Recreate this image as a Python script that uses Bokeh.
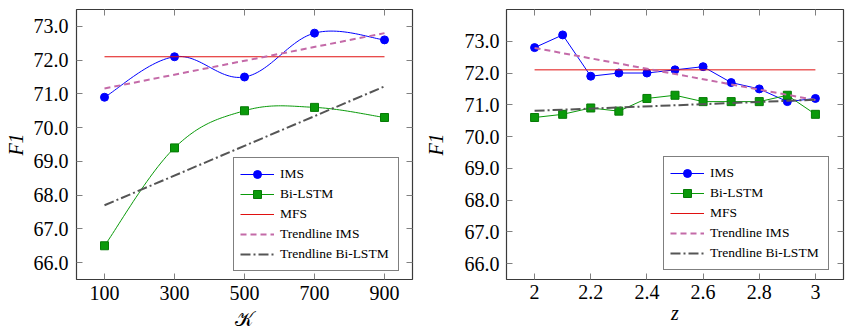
import numpy as np
from bokeh.plotting import figure
from bokeh.layouts import row
from bokeh.models import (Range1d, FixedTicker, PrintfTickFormatter, NumeralTickFormatter,
                          LinearAxis, Legend, LegendItem, CustomLabelingPolicy)
from bokeh.embed import file_html
from bokeh.resources import INLINE

# ---- F1 against cluster count K ----
k_values = [100, 300, 500, 700, 900]
ims_k = [70.9, 72.1, 71.5, 72.8, 72.6]
bilstm_k = [66.5, 69.4, 70.5, 70.6, 70.3]
mfs_k = [72.1, 72.1]
trend_ims_k = [71.16, 72.80]
trend_bilstm_k = [67.70, 71.22]
k_ticks = [100, 300, 500, 700, 900]

# ---- F1 against z ----
z_values = [2.0, 2.1, 2.2, 2.3, 2.4, 2.5, 2.6, 2.7, 2.8, 2.9, 3.0]
ims_z = [72.8, 73.2, 71.9, 72.0, 72.0, 72.1, 72.2, 71.7, 71.5, 71.1, 71.2]
bilstm_z = [70.6, 70.7, 70.9, 70.8, 71.2, 71.3, 71.1, 71.1, 71.1, 71.3, 70.7]
mfs_z = [72.1, 72.1]
trend_ims_z = [72.79, 71.15]
trend_bilstm_z = [70.81, 71.16]
z_ticks = [2.0, 2.2, 2.4, 2.6, 2.8, 3.0]

f1_ticks = [66, 67, 68, 69, 70, 71, 72, 73]

SERIF = "Liberation Serif"
BLUE = "#0000ff"
GREEN = "#0a9a0a"
GREEN_EDGE = "#067a06"
RED = "#e01010"
PINK = "#c46aa8"
GREY = "#555555"
FRAME = "#3a3a3a"
TICK = "#808080"


def smooth_curve(xs, ys, tension=0.55, samples=30):
    """Cardinal-spline path through the points (like a 'smooth' plot)."""
    pts = np.column_stack([np.asarray(xs, float), np.asarray(ys, float)])
    k = tension / 3.0
    out = []
    n = len(pts)
    t = np.linspace(0.0, 1.0, samples)[:, None]
    for i in range(n - 1):
        p0 = pts[max(i - 1, 0)]
        p1 = pts[i]
        p2 = pts[i + 1]
        p3 = pts[min(i + 2, n - 1)]
        c1 = p1 + k * (p2 - p0)
        c2 = p2 - k * (p3 - p1)
        seg = ((1 - t) ** 3) * p1 + 3 * ((1 - t) ** 2) * t * c1 + 3 * (1 - t) * t ** 2 * c2 + t ** 3 * p2
        out.append(seg if i == 0 else seg[1:])
    arr = np.vstack(out)
    return arr[:, 0], arr[:, 1]


def style_axes(p, x_ticks, x_fmt, xlabel, xlabel_style, x_standoff, xlab_standoff, ylab_standoff, y_standoff):
    p.xgrid.visible = False
    p.ygrid.visible = False
    p.outline_line_color = FRAME
    p.outline_line_width = 1.2
    p.background_fill_color = "white"
    p.border_fill_color = "white"

    xa = p.xaxis[0]
    ya = p.yaxis[0]
    xa.ticker = FixedTicker(ticks=x_ticks)
    xa.formatter = x_fmt
    ya.ticker = FixedTicker(ticks=f1_ticks)
    ya.formatter = PrintfTickFormatter(format="%.1f")
    for ax in (xa, ya):
        ax.axis_line_color = None
        ax.major_tick_in = 6
        ax.major_tick_out = 0
        ax.minor_tick_in = 0
        ax.minor_tick_out = 0
        ax.major_tick_line_color = TICK
        ax.major_label_text_font = SERIF
        ax.major_label_text_font_size = "20px"
        ax.major_label_text_color = "black"
        ax.axis_label_text_font = SERIF
        ax.axis_label_text_font_size = "20px"
        ax.axis_label_text_color = "black"
    xa.major_label_standoff = x_standoff
    ya.major_label_standoff = y_standoff
    xa.axis_label = xlabel
    xa.axis_label_text_font_style = xlabel_style
    xa.axis_label_standoff = xlab_standoff
    ya.axis_label = "F1"
    ya.axis_label_text_font_style = "italic"
    ya.axis_label_standoff = ylab_standoff

    # mirrored ticks on the top and right edges, without labels
    top = LinearAxis(ticker=FixedTicker(ticks=x_ticks),
                     major_label_policy=CustomLabelingPolicy(code="return new Set()"))
    right = LinearAxis(ticker=FixedTicker(ticks=f1_ticks),
                       major_label_policy=CustomLabelingPolicy(code="return new Set()"))
    for ax in (top, right):
        ax.axis_line_color = None
        ax.major_tick_in = 6
        ax.major_tick_out = 0
        ax.minor_tick_in = 0
        ax.minor_tick_out = 0
        ax.major_tick_line_color = TICK
        ax.major_label_text_font_size = "0px"
        ax.major_label_standoff = 0
    p.add_layout(top, "above")
    p.add_layout(right, "right")


def add_series(p, xs, ims, bilstm, mfs, trend_ims, trend_bilstm, smooth, legend_xy):
    if smooth:
        sx, sy = smooth_curve(xs, ims)
        gx, gy = smooth_curve(xs, bilstm)
    else:
        sx, sy = xs, ims
        gx, gy = xs, bilstm
    ends = [xs[0], xs[-1]]

    ims_line = p.line(sx, sy, line_color=BLUE, line_width=1)
    ims_pts = p.scatter(xs, ims, marker="circle", size=8, fill_color=BLUE, line_color=BLUE)
    bl_line = p.line(gx, gy, line_color=GREEN, line_width=1)
    bl_pts = p.scatter(xs, bilstm, marker="square", size=8, fill_color=GREEN, line_color=GREEN_EDGE)
    mfs_line = p.line(ends, mfs, line_color=RED, line_width=1)
    t_ims = p.line(ends, trend_ims, line_color=PINK, line_width=2, line_dash="6 4")
    t_bl = p.line(ends, trend_bilstm, line_color=GREY, line_width=2, line_dash="10 3 2 3")

    legend = Legend(
        items=[
            LegendItem(label="IMS", renderers=[ims_line, ims_pts]),
            LegendItem(label="Bi-LSTM", renderers=[bl_line, bl_pts]),
            LegendItem(label="MFS", renderers=[mfs_line]),
            LegendItem(label="Trendline IMS", renderers=[t_ims]),
            LegendItem(label="Trendline Bi-LSTM", renderers=[t_bl]),
        ],
        location=legend_xy,
        orientation="vertical",
        padding=6,
        spacing=0,
        margin=0,
        glyph_width=34,
        glyph_height=20,
        label_height=20,
        label_width=112,
        label_standoff=6,
        label_text_font=SERIF,
        label_text_font_size="13.5px",
        label_text_color="black",
        border_line_color="black",
        border_line_width=1,
        background_fill_color="white",
        background_fill_alpha=1.0,
    )
    p.add_layout(legend)


# left panel
p1 = figure(width=420, height=336, x_range=Range1d(20, 980), y_range=Range1d(65.5, 73.5),
            output_backend="svg", toolbar_location=None,
            min_border_left=76, min_border_right=8, min_border_top=2, min_border_bottom=57)
style_axes(p1, k_ticks, PrintfTickFormatter(format="%d"), "\U0001D4A6", "normal",
           x_standoff=6, xlab_standoff=5, ylab_standoff=4, y_standoff=8)
add_series(p1, k_values, ims_k, bilstm_k, mfs_k, trend_ims_k, trend_bilstm_k, True, (157, 8))

# right panel
p2 = figure(width=431, height=336, x_range=Range1d(1.9, 3.1), y_range=Range1d(65.5, 74.0),
            output_backend="svg", toolbar_location=None,
            min_border_left=86, min_border_right=8, min_border_top=9, min_border_bottom=49)
style_axes(p2, z_ticks, NumeralTickFormatter(format="0.[0]"), "z", "italic",
           x_standoff=5, xlab_standoff=0, ylab_standoff=15, y_standoff=7)
add_series(p2, z_values, ims_z, bilstm_z, mfs_z, trend_ims_z, trend_bilstm_z, False, (157, 9))

layout = row(p1, p2)
open("out.html", "w").write(file_html(layout, INLINE))
